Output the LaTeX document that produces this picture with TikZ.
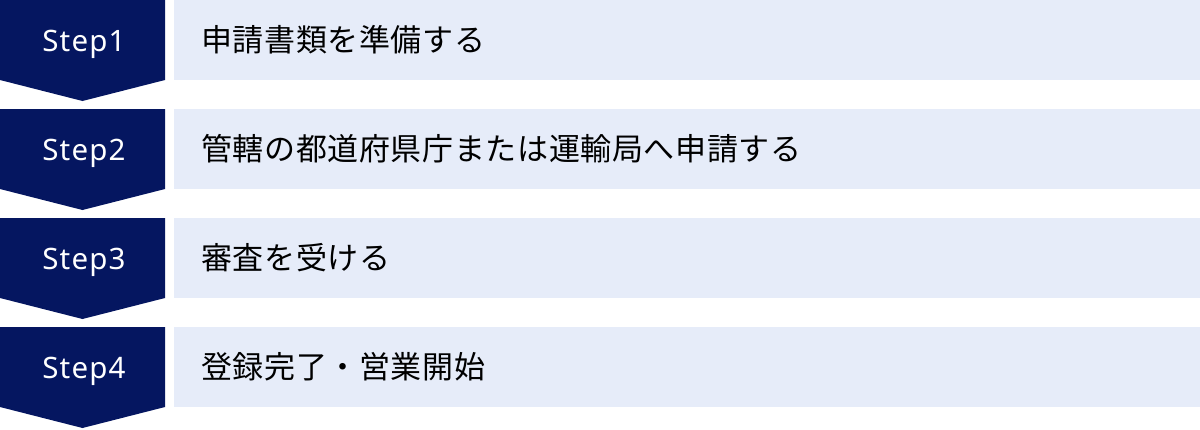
\documentclass[tikz,border=0pt]{standalone}
\usepackage{fontspec}
\newfontfamily\jpfont[LetterSpace=2]{Noto Sans CJK JP}
\newfontfamily\stepfont[LetterSpace=4]{Noto Sans}
\definecolor{navy}{RGB}{5,22,96}
\definecolor{lightbg}{RGB}{230,236,249}
\begin{document}
\begin{tikzpicture}[x=1pt,y=-1pt,
  chevron/.style={fill=navy,draw=none},
  bar/.style={fill=lightbg,draw=none},
  steplabel/.style={text=white,font=\stepfont\fontsize{29.5pt}{30pt}\selectfont,inner sep=0pt,anchor=base},
  itemtext/.style={text=black,font=\jpfont\fontsize{31pt}{32pt}\selectfont,inner sep=0pt,anchor=base west}]
\useasboundingbox (0,0) rectangle (1200,429);
\foreach \i/\t in {0/申請書類を準備する,1/管轄の都道府県庁または運輸局へ申請する,2/審査を受ける,3/登録完了・営業開始}{
  \pgfmathsetmacro{\top}{\i*109}
  \fill[chevron] (0,\top) -- (165,\top) -- (165,\top+80) -- (82.5,\top+101) -- (0,\top+80) -- cycle;
  \fill[bar] (174,\top) rectangle (1200,\top+79.5);
  \pgfmathtruncatemacro{\n}{\i+1}
  \node[steplabel] (s\n) at (84,\top+51.5) {Step\n};
  \node[itemtext] (t\n) at (201,\top+51.5) {\t};
}
\end{tikzpicture}
\end{document}
